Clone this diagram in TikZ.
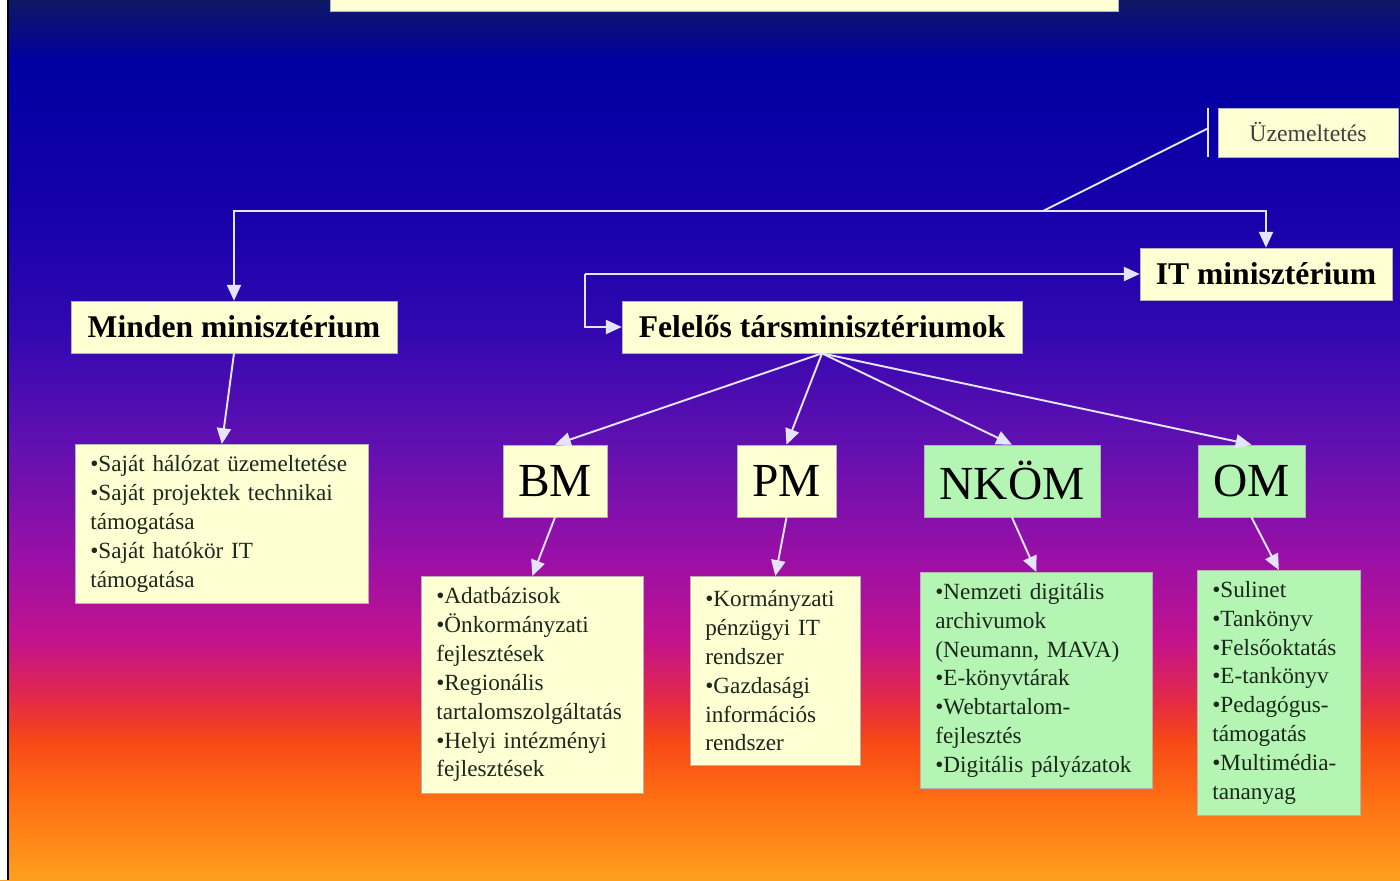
\documentclass[tikz,border=0pt]{standalone}
\usepackage{fontspec}
\setmainfont{Liberation Serif}
\usetikzlibrary{positioning,arrows.meta}

\definecolor{cream}{RGB}{255,255,212}
\definecolor{mint}{RGB}{180,245,180}
\definecolor{wirecol}{RGB}{228,228,255}
\definecolor{ink}{RGB}{28,40,28}
\definecolor{bgA}{RGB}{16,24,100}
\definecolor{bgB}{RGB}{0,0,160}
\definecolor{bgC}{RGB}{20,0,170}
\definecolor{bgD}{RGB}{50,8,176}
\definecolor{bgE}{RGB}{100,16,176}
\definecolor{bgF}{RGB}{155,16,166}
\definecolor{bgG}{RGB}{195,18,140}
\definecolor{bgH}{RGB}{228,42,70}
\definecolor{bgI}{RGB}{246,72,22}
\definecolor{bgJ}{RGB}{255,112,20}
\definecolor{bgK}{RGB}{255,160,30}

\tikzset{
  box/.style={draw=gray!60, line width=0.4pt, fill=cream, inner sep=0pt},
  head/.style={box, font=\fontsize{18}{20}\selectfont\bfseries, minimum height=1.04cm},
  abbr/.style={box, font=\fontsize{27}{30}\selectfont, minimum height=1.44cm},
  list/.style={box, anchor=north west, align=left, text=ink, inner xsep=0.3cm,
    font=\fontsize{13.2}{16.4}\selectfont},
  wire/.style={color=wirecol, line width=1.1pt},
  arr/.style={wire, -{Triangle[length=9pt,width=8pt]}},
}

\begin{document}
\begin{tikzpicture}[x=0.02cm, y=-0.02cm]
   \useasboundingbox (0,0) rectangle (1400,880);
   \clip (0,0) rectangle (1400,880);
   % background
   \foreach \ya/\yb/\ca/\cb in {0/60/bgA/bgB, 60/200/bgB/bgC, 200/330/bgC/bgD,
       330/450/bgD/bgE, 450/560/bgE/bgF, 560/640/bgF/bgG, 640/700/bgG/bgH,
       700/740/bgH/bgI, 740/800/bgI/bgJ, 800/880/bgJ/bgK}
     \shade[top color=\ca, bottom color=\cb] (0,\ya) rectangle (1400,\yb+1);
   \fill[white] (0,0) rectangle (7,880);
   \draw[black, line width=1.2pt] (8,0) -- (8,880);

   \node[box, minimum width=15.76cm, minimum height=1.6cm, anchor=south west] (title) at (330,12) {};

   \node[box, minimum width=3.6cm, minimum height=0.98cm, text=black!75,
     font=\fontsize{13.5}{15}\selectfont] (uzem) at (1308,132.5) {Üzemeltetés};
   \node[head, minimum width=5.04cm] (it) at (1266,274) {IT minisztérium};
   \node[head, minimum width=6.52cm] (minden) at (234,327) {Minden minisztérium};
   \node[head, minimum width=8cm] (fel) at (822,327) {Felelős társminisztériumok};

   \node[abbr, minimum width=2.08cm] (bm) at (555,481) {BM};
   \node[abbr, minimum width=1.98cm] (pm) at (786.5,481) {PM};
   \node[abbr, fill=mint, minimum width=3.52cm] (nkom) at (1012,481) {NKÖM};
   \node[abbr, fill=mint, minimum width=2.14cm] (om) at (1251.5,481) {OM};

   \node[list, text width=5.26cm, minimum height=3.18cm] (own) at (75,444)
     {•Saját hálózat üzemeltetése\\•Saját projektek technikai\\támogatása\\•Saját hatókör IT\\támogatása};
   \node[list, text width=3.84cm, minimum height=4.34cm] (bmlist) at (421,576)
     {•Adatbázisok\\•Önkormányzati\\fejlesztések\\•Regionális\\tartalomszolgáltatás\\•Helyi intézményi\\fejlesztések};
   \node[list, text width=2.8cm, minimum height=3.78cm] (pmlist) at (690,576)
     {•Kormányzati\\pénzügyi IT\\rendszer\\•Gazdasági\\információs\\rendszer};
   \node[list, fill=mint, text width=4.04cm, minimum height=4.32cm] (nklist) at (920,572)
     {•Nemzeti digitális\\archivumok\\(Neumann, MAVA)\\•E-könyvtárak\\•Webtartalom-\\fejlesztés\\•Digitális pályázatok};
   \node[list, fill=mint, text width=2.66cm, minimum height=4.9cm] (omlist) at (1197,570)
     {•Sulinet\\•Tankönyv\\•Felsőoktatás\\•E-tankönyv\\•Pedagógus-\\támogatás\\•Multimédia-\\tananyag};

   % connectors
   \coordinate (hub) at (1043,211);
   \coordinate (split) at (585,274);
   \coordinate (tick) at ([xshift=-0.2cm,yshift=0.08cm]uzem.west);
   \draw[wire] ([xshift=-0.2cm]uzem.north west) -- ([xshift=-0.2cm]uzem.south west);
   \draw[wire] (hub) -- (tick);
   \draw[arr] (hub) -| (minden.north);
   \draw[arr] (hub) -| (it.north);
   \draw[arr] (split) -- (it.west);
   \draw[arr] (split) |- (fel.west);
   \path[arr]
    (fel.south) edge (bm.north)
    (fel.south) edge (pm.north)
    (fel.south) edge (nkom.north)
    (fel.south) edge (om.north)
    (minden.south) edge (own.north)
    (bm.south) edge (bmlist.north)
    (pm.south) edge (pmlist.north)
    (nkom.south) edge (nklist.north)
    (om.south) edge (omlist.north);
\end{tikzpicture}
\end{document}
